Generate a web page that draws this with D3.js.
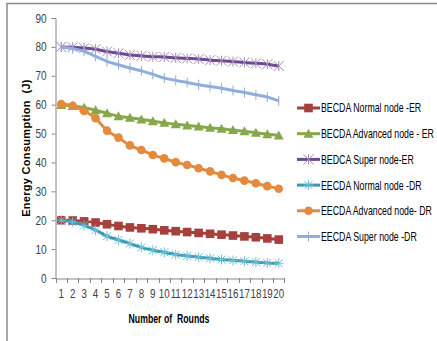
<!DOCTYPE html>
<html><head><meta charset="utf-8">
<script src="https://cdn.jsdelivr.net/npm/d3@7"></script>
<style>body{margin:0;background:#fff;}svg{display:block;}</style>
</head><body>
<svg id="c" width="437" height="341"></svg>
<script>
const rounds = d3.range(1, 21).map(String);
const yTicks = [0,10,20,30,40,50,60,70,80,90];
const seriesNames = ["BECDA Normal node -ER","BECDA Advanced node - ER","BEDCA Super node-ER","EECDA Normal node -DR","EECDA Advanced node- DR","EECDA Super node -DR"];
const becdaNormal = [20,19.9,19.6,19.2,18.6,18.0,17.5,17.2,16.9,16.5,16.2,15.9,15.6,15.3,15.0,14.7,14.4,14.1,13.7,13.3];
const becdaAdvanced = [59.9,59.5,58.9,58.1,57.0,56.0,55.5,54.9,54.3,53.7,53.2,52.8,52.4,52.0,51.7,51.2,50.8,50.3,49.8,49.3];
const bedcaSuper = [80,79.9,79.6,79.2,78.4,77.8,77.2,76.9,76.6,76.5,76.2,76.0,75.8,75.4,75.2,74.9,74.6,74.3,74.0,73.4];
const eecdaNormal = [20,19.4,18.2,16.6,14.5,13.2,11.9,10.6,9.6,8.9,8.1,7.6,7.2,6.8,6.4,6.1,5.8,5.5,5.2,5.1];
const eecdaAdvanced = [60.2,59.6,57.8,55.3,51.0,48.6,45.9,44.3,42.6,41.4,40.1,39.1,38.0,36.9,35.7,34.6,33.7,32.8,31.8,30.9];
const eecdaSuper = [80,79.4,78.5,76.7,75.0,73.8,72.7,71.7,70.5,69.2,68.4,67.7,66.9,66.3,65.7,64.9,64.2,63.4,62.6,61.3];
const allSeries = [becdaNormal, becdaAdvanced, bedcaSuper, eecdaNormal, eecdaAdvanced, eecdaSuper];
const colors = ["#a6403d","#86a84a","#6c4a8e","#3b97af","#e38a3c","#8faedb"];
const markers = ["square","triangle","xstar","asterisk","circle","plus"];

const svg = d3.select("#c");
const font = "'Liberation Sans',Arial,sans-serif";

function condense(sel, sx, ax){
  sel.attr("transform", `translate(${ax},0) scale(${sx},1) translate(${-ax},0)`);
}

// frame
svg.append("path").attr("d","M7,341V3.5H437").attr("fill","none").attr("stroke","#8a8a8a").attr("stroke-width",1.5);

const x = d3.scaleBand().domain(rounds).range([55.5, 284.5]);
const y = d3.scaleLinear().domain([0,90]).range([278, 18]);

// y axis
const ya = svg.append("g").attr("transform","translate(55.5,0)")
  .call(d3.axisLeft(y).tickValues(yTicks).tickSize(4).tickPadding(5));
ya.select(".domain").attr("stroke","#868686");
ya.selectAll(".tick line").attr("stroke","#868686");
ya.selectAll("text").attr("font-family",font).attr("font-size",12.5).attr("fill","#404040")
  .attr("transform","translate(-9,0) scale(0.8,1) translate(9,0)");

// x axis
const xa = svg.append("g").attr("transform","translate(0,278.5)")
  .call(d3.axisBottom(x).tickSize(0).tickPadding(11));
xa.select(".domain").attr("stroke","#868686");
xa.selectAll("text").attr("font-family",font).attr("font-size",12.5).attr("fill","#404040")
  .attr("transform","scale(0.78,1)");
// boundary ticks
svg.append("g").selectAll("line").data(rounds.concat(["end"])).join("line")
  .attr("x1",(d,i)=> i<20 ? Math.round(x(d))+0.5 : Math.round(x.range()[1])-0.5)
  .attr("x2",(d,i)=> i<20 ? Math.round(x(d))+0.5 : Math.round(x.range()[1])-0.5)
  .attr("y1",278).attr("y2",283).attr("stroke","#868686");

// titles
svg.append("text").attr("transform","translate(30,148) rotate(-90)").attr("text-anchor","middle")
  .attr("font-family",font).attr("font-weight","bold").attr("font-size",11).attr("fill","#000")
  .attr("letter-spacing",0.3).style("white-space","pre")
  .text("Energy Consumption  (J)");
const xt = svg.append("text").attr("x",169).attr("y",323).attr("text-anchor","middle")
  .attr("font-family",font).attr("font-weight","bold").attr("font-size",12).attr("fill","#000")
  .style("white-space","pre")
  .text("Number of  Rounds");
condense(xt, 81/xt.node().getComputedTextLength(), 169);

function drawMarker(g, type, color){
  if(type==="square") g.append("rect").attr("x",-4.3).attr("y",-4.3).attr("width",8.6).attr("height",8.6).attr("fill",color);
  else if(type==="triangle") g.append("path").attr("d","M0,-5L5,4H-5Z").attr("fill",color);
  else if(type==="circle") g.append("circle").attr("r",4.3).attr("fill",color);
  else if(type==="xstar") g.append("path").attr("d","M-5,-5L5,5M-5,5L5,-5M0,-5V5").attr("stroke",color).attr("stroke-width",1).attr("fill","none");
  else if(type==="asterisk") g.append("path").attr("d","M-4,-4L4,4M-4,4L4,-4M0,-5V5M-5,0H5").attr("stroke",color).attr("stroke-width",1).attr("fill","none");
  else if(type==="plus") g.append("path").attr("d","M0,-5V5").attr("stroke",color).attr("stroke-width",1).attr("fill","none");
}
const markerColor = (i)=> (i===2? "#a08cc0" : i===3 ? "#6cc0d6" : colors[i]);

const line = d3.line().x((d,i)=>x(rounds[i])+x.bandwidth()/2).y(d=>y(d)).curve(d3.curveMonotoneX);
allSeries.forEach((s,k)=>{
  svg.append("path").datum(s).attr("d",line).attr("fill","none").attr("stroke",colors[k]).attr("stroke-width",3);
  s.forEach((v,i)=>{
    const g = svg.append("g").attr("transform",`translate(${x(rounds[i])+x.bandwidth()/2},${y(v)})`);
    drawMarker(g, markers[k], markerColor(k));
  });
});

// legend
const ly0 = 108, ldy = 25.7;
const legTexts = [];
seriesNames.forEach((n,k)=>{
  const yy = ly0 + k*ldy;
  svg.append("line").attr("x1",297).attr("x2",320).attr("y1",yy).attr("y2",yy).attr("stroke",colors[k]).attr("stroke-width",3);
  const g = svg.append("g").attr("transform",`translate(308.5,${yy})`);
  drawMarker(g, markers[k], markerColor(k));
  legTexts.push(svg.append("text").attr("x",321).attr("y",yy+4.5).attr("font-family",font).attr("font-size",12.5).attr("fill","#000").text(n));
});
const longest = d3.max(legTexts, t=>t.node().getComputedTextLength());
const sx = 113/longest;
legTexts.forEach(t=>condense(t, sx, 321));
</script>
</body></html>
